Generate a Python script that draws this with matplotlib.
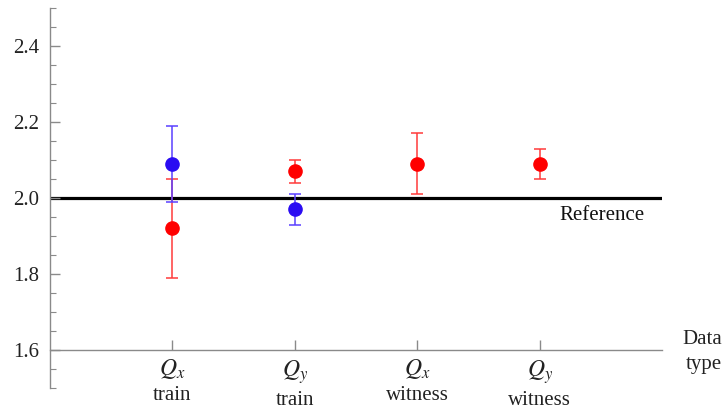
"""Fitted exponent per data type, compared against the reference value."""

import matplotlib

matplotlib.use("Agg")
import matplotlib.pyplot as plt
import numpy as np
from matplotlib.ticker import MultipleLocator

plt.rcParams["font.family"] = ["Liberation Serif", "DejaVu Serif"]
plt.rcParams["mathtext.fontset"] = "stix"

# categories along the x axis
positions = [1, 2, 3, 4]
symbols = ["$Q_x$", "$Q_y$", "$Q_x$", "$Q_y$"]
kinds = ["train", "train", "witness", "witness"]

# red series: one value per category
red_values = [1.92, 2.07, 2.09, 2.09]
red_errors = [0.13, 0.03, 0.08, 0.04]

# blue series: only the training sets
blue_positions = [1, 2]
blue_values = [2.09, 1.97]
blue_errors = [0.10, 0.04]

reference_value = 2.0

RED = "#ff0000"
BLUE = "#2a0cf2"
AXIS_GRAY = "#8a8a8a"

fig = plt.figure(figsize=(7.27, 4.09), dpi=100)
ax = fig.add_axes([50 / 727, 21 / 409, 612 / 727, 380 / 409])
ax.set_xlim(0, 5)
ax.set_ylim(1.5, 2.5)

ax.axhline(reference_value, color="black", linewidth=2.3, zorder=1)

ax.errorbar(
    positions, red_values, yerr=red_errors,
    fmt="o", color=RED, ecolor="#ff3a3a", markersize=9.5,
    elinewidth=1.1, capsize=4, capthick=1.1, zorder=3,
)
ax.errorbar(
    blue_positions, blue_values, yerr=blue_errors,
    fmt="o", color=BLUE, ecolor="#5a40ff", markersize=9.5,
    elinewidth=1.1, capsize=4, capthick=1.1, zorder=4,
)

# Mathematica-style frame: axes cross at y = 1.6
for side in ("top", "right"):
    ax.spines[side].set_visible(False)
ax.spines["bottom"].set_position(("data", 1.6))
for side in ("left", "bottom"):
    ax.spines[side].set_color(AXIS_GRAY)
    ax.spines[side].set_linewidth(1.0)

ax.yaxis.set_minor_locator(MultipleLocator(0.05))
ax.set_yticks(np.arange(1.6, 2.41, 0.2))
ax.set_yticklabels([f"{v:.1f}" for v in np.arange(1.6, 2.41, 0.2)])
ax.tick_params(axis="y", which="major", direction="in", length=7,
               width=1.0, color=AXIS_GRAY, labelsize=15, pad=8,
               labelcolor="#222222")
ax.tick_params(axis="y", which="minor", direction="in", length=4,
               width=0.8, color=AXIS_GRAY)

ax.set_xticks(positions)
ax.set_xticklabels([])
ax.tick_params(axis="x", which="major", direction="in", length=7,
               width=1.0, color=AXIS_GRAY)

# two-line category labels under the x axis; Q_y rows sit a little lower
for x, sym, kind in zip(positions, symbols, kinds):
    is_qx = sym == "$Q_x$"
    ax.text(x, 1.550 if is_qx else 1.543, sym, ha="center", va="center",
            fontsize=17, color="#222222", clip_on=False)
    ax.text(x, 1.479 if is_qx else 1.468, kind, ha="center", va="center",
            fontsize=15, color="#222222", clip_on=False)

ax.text(4.86, 1.953, "Reference", ha="right", va="center", fontsize=15,
        color="#111111")
ax.text(5.49, 1.595, "Data\ntype", ha="right", va="center", fontsize=15,
        multialignment="right", linespacing=1.45, color="#222222",
        clip_on=False)

fig.savefig("out.png", dpi=100)
